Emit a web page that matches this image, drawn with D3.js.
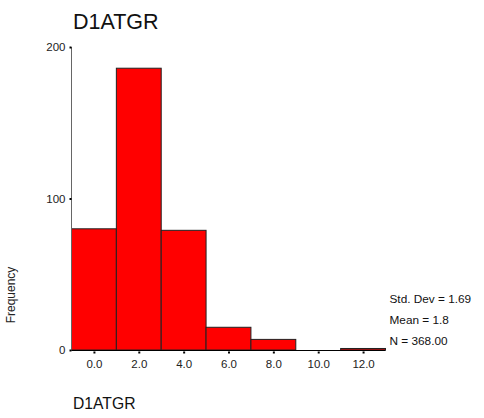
<!DOCTYPE html>
<html><head><meta charset="utf-8">
<script src="https://cdn.jsdelivr.net/npm/d3@7"></script>
<style>body{margin:0;background:#fff}svg{display:block;font-family:"Liberation Sans",Arial,sans-serif}</style>
</head><body>
<script>
const binStarts = [-1, 1, 3, 5, 7, 9, 11];
const binWidth = 2;
const counts = [80, 186, 79, 15, 7, 0, 1];
const xTicks = [0, 2, 4, 6, 8, 10, 12];
const yTicks = [0, 100, 200];
const stats = ["Std. Dev = 1.69", "Mean = 1.8", "N = 368.00"];
const title = "D1ATGR";

const W = 484, H = 418;
const svg = d3.select("body").append("svg").attr("width", W).attr("height", H);
const x = d3.scaleLinear().domain([-1, 13]).range([71.5, 385.5]);
const y = d3.scaleLinear().domain([0, 200]).range([350, 47]);

svg.append("text").attr("x", 73).attr("y", 28.5).attr("font-size", "21.5px").attr("fill", "#111").text(title);

// bars
svg.selectAll("rect.bar").data(counts.map((c, i) => ({c, s: binStarts[i]})).filter(d => d.c > 0))
  .enter().append("rect").attr("class", "bar")
  .attr("x", d => x(d.s)).attr("width", d => x(d.s + binWidth) - x(d.s))
  .attr("y", d => y(d.c)).attr("height", d => y(0) - y(d.c))
  .attr("fill", "#ff0000").attr("stroke", "#222").attr("stroke-width", 1);

// y axis
const ya = svg.append("g").attr("transform", "translate(71.5,0)")
  .call(d3.axisLeft(y).tickValues(yTicks).tickFormat(d3.format("d")).tickSize(2).tickPadding(4));
ya.select(".domain").attr("stroke", "#666").attr("d", `M0,${y(200)}V${y(0)}`);
ya.selectAll(".tick line").attr("stroke", "#000").attr("stroke-width", 2);
ya.selectAll(".tick text").attr("font-size", "11.5px").attr("fill", "#222").attr("font-family", "Liberation Sans, Arial, sans-serif");

// x axis
const xa = svg.append("g").attr("transform", "translate(0,350.5)")
  .call(d3.axisBottom(x).tickValues(xTicks).tickFormat(d3.format(".1f")).tickSize(0).tickPadding(9));
xa.select(".domain").attr("stroke", "#000").attr("d", `M${x(-1)},0H${x(13)}`);
xa.selectAll(".tick").append("rect").attr("x", -1).attr("y", 1).attr("width", 2).attr("height", 2).attr("fill", "#000");
xa.selectAll(".tick text").attr("font-size", "11.5px").attr("fill", "#222").attr("font-family", "Liberation Sans, Arial, sans-serif");

// y label
svg.append("text").attr("transform", "translate(15,295) rotate(-90)").attr("text-anchor", "middle")
  .attr("font-size", "12px").attr("fill", "#222").text("Frequency");

// x label
svg.append("text").attr("x", 73).attr("y", 409).attr("font-size", "15.7px").attr("fill", "#111").text(title);

// stats
svg.selectAll("text.stat").data(stats).enter().append("text").attr("class", "stat")
  .attr("x", 389.5).attr("y", (d, i) => 303 + i * 21).attr("font-size", "11.8px").attr("fill", "#111").text(d => d);
</script>
</body></html>
